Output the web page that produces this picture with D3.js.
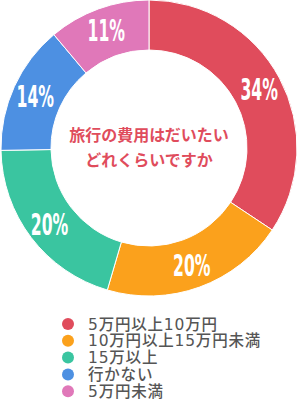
<!DOCTYPE html>
<html>
<head>
<meta charset="utf-8">
<script src="https://cdn.jsdelivr.net/npm/d3@7"></script>
<style>
  body { margin: 0; background: #fff; }
  svg { display: block; }
</style>
</head>
<body>
<div id="container"></div>
<script>
'use strict';

const width = 300,
      height = 400,
      cx = 149,
      cy = 148,
      outerR = 148,
      innerR = 98;

const categories = ["5万円以上10万円", "10万円以上15万円未満", "15万以上", "行かない", "5万円未満"];
const values = [34, 20, 20, 14, 11];
const colors = ["#e04c5c", "#fba11c", "#3ac5a0", "#4d90e2", "#e078b9"];
const titleLines = ["旅行の費用はだいたい", "どれくらいですか"];

const svg = d3.select("#container")
  .append("svg")
  .attr("width", width)
  .attr("height", height);

const pie = d3.pie().sort(null).value(d => d.value);
const arc = d3.arc().innerRadius(innerR).outerRadius(outerR);
const labelArc = d3.arc().innerRadius(125).outerRadius(125);

const data = categories.map((c, i) => ({name: c, value: values[i], color: colors[i]}));

const g = svg.append("g").attr("transform", `translate(${cx},${cy})`);

g.selectAll("path")
  .data(pie(data))
  .join("path")
  .attr("d", arc)
  .attr("fill", d => d.data.color)
  .attr("stroke", "#fff")
  .attr("stroke-width", 1);

// tall, narrow percentage labels
g.selectAll(".pct")
  .data(pie(data))
  .join("text")
  .attr("class", "pct")
  .attr("transform", d => {
    const [x, y] = labelArc.centroid(d);
    return `translate(${x},${y}) scale(0.58,1)`;
  })
  .attr("text-anchor", "middle")
  .attr("dy", "0.36em")
  .attr("fill", "#fff")
  .attr("font-family", "'DejaVu Sans Condensed', 'DejaVu Sans', sans-serif")
  .attr("font-weight", "bold")
  .attr("font-size", 30)
  .text(d => d.data.value + "%");

g.selectAll(".title")
  .data(titleLines)
  .join("text")
  .attr("class", "title")
  .attr("x", 0)
  .attr("y", (d, i) => -13 + i * 25)
  .attr("dy", "0.36em")
  .attr("text-anchor", "middle")
  .attr("fill", "#e04c5c")
  .attr("font-family", "'Noto Sans CJK JP', sans-serif")
  .attr("font-weight", "bold")
  .attr("font-size", 16)
  .text(d => d);

const legend = svg.append("g")
  .selectAll("g")
  .data(data)
  .join("g")
  .attr("transform", (d, i) => `translate(68,${324 + i * 16.8})`);

legend.append("circle")
  .attr("r", 6)
  .attr("fill", d => d.color);

legend.append("text")
  .attr("x", 20)
  .attr("dy", "0.36em")
  .attr("fill", "#555")
  .attr("font-family", "'DejaVu Sans', 'Noto Sans CJK JP', sans-serif")
  .attr("font-weight", 500)
  .attr("font-size", 15.5)
  .attr("letter-spacing", 0.8)
  .text(d => d.name);
</script>
</body>
</html>
